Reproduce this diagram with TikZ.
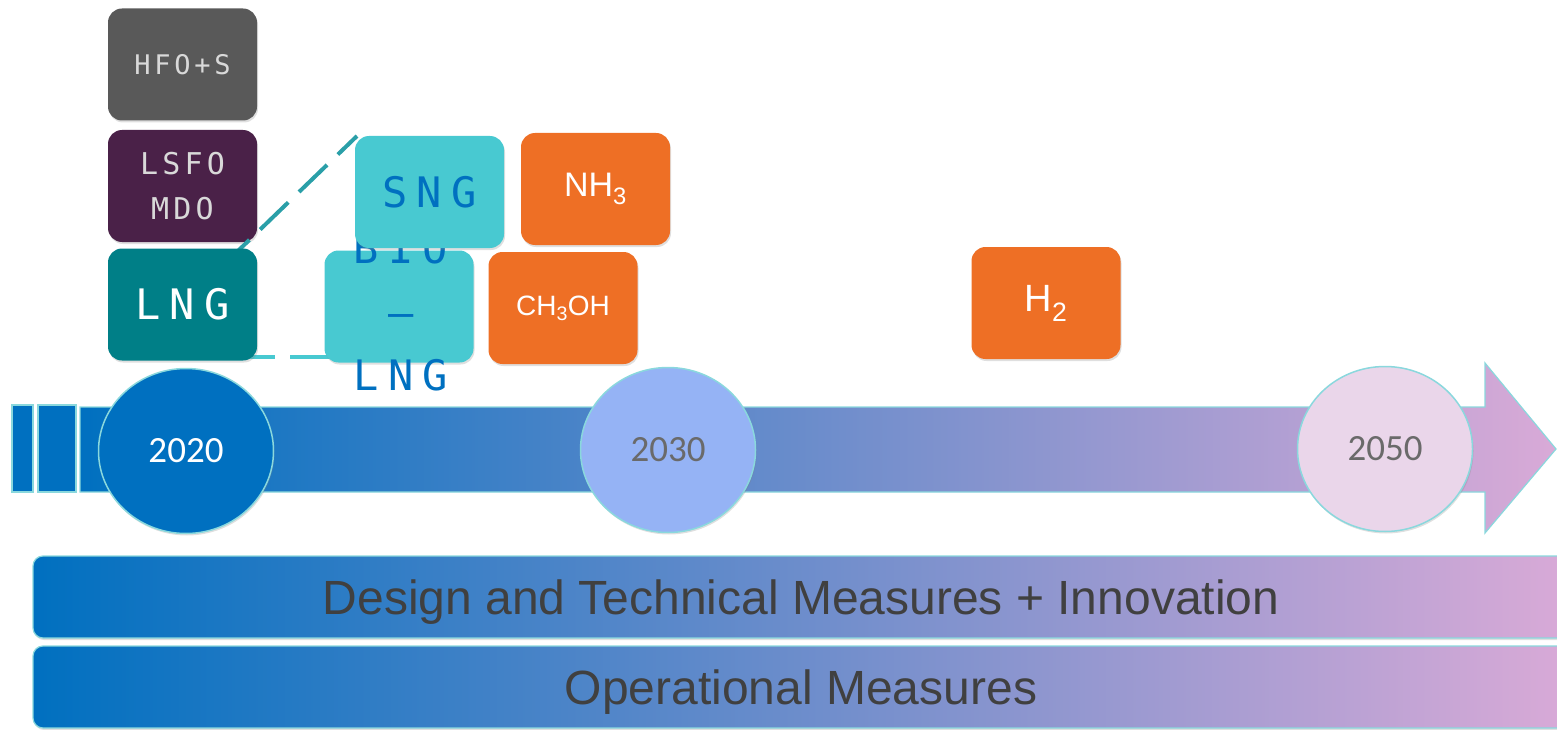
\documentclass[tikz,border=0pt]{standalone}
\usepackage{fontspec}
\setmainfont{Liberation Sans}
\newfontfamily\yearfont{Carlito}
\newfontfamily\fuelfont[LetterSpace=14]{DejaVu Sans Mono}
\newfontfamily\widefuelfont[LetterSpace=22]{DejaVu Sans Mono}
\usepackage{tikz}
\usetikzlibrary{shapes,arrows,positioning,calc,shadows}

\definecolor{hfogrey}{HTML}{595959}
\definecolor{lsfopurple}{HTML}{4A2148}
\definecolor{lngteal}{HTML}{007F87}
\definecolor{sngcyan}{HTML}{48C9D1}
\definecolor{fuelorange}{HTML}{EE6F25}
\definecolor{deepblue}{HTML}{0070C0}
\definecolor{lilac}{HTML}{D9AAD7}
\definecolor{rimcyan}{HTML}{8AD8DD}
\definecolor{lighttext}{HTML}{D9D9D9}
\definecolor{yeargrey}{HTML}{6A6A6A}
\definecolor{bartext}{HTML}{404040}
\definecolor{dashteal}{HTML}{2A9FA8}
\definecolor{midblue}{HTML}{95B3F5}
\definecolor{palelilac}{HTML}{EAD6EA}

\begin{document}
\begin{tikzpicture}[x=1pt,y=-1pt,
    fuelbox/.style={rounded corners=14pt, minimum width=149pt, minimum height=112pt,
        inner sep=0pt, align=center,
        drop shadow={opacity=0.25,shadow xshift=1pt,shadow yshift=-2pt}},
    monotext/.style={font=\fuelfont\fontsize{#1}{45}\selectfont},
    widetext/.style={font=\widefuelfont\fontsize{#1}{63.5}\selectfont},
    yearring/.style={ellipse, minimum width=175pt, minimum height=165pt, inner sep=0pt,
        draw=rimcyan, line width=1.5pt, font=\yearfont\fontsize{37}{40}\selectfont,
        drop shadow={opacity=0.25,shadow xshift=1pt,shadow yshift=-2pt}},
    barbox/.style={rounded corners=10pt, minimum width=1536pt, minimum height=82pt,
        left color=deepblue, right color=lilac, draw=rimcyan, line width=1.2pt,
        text=bartext, font=\fontsize{48}{52}\selectfont, text height=35pt, text depth=0pt,
        drop shadow={opacity=0.25,shadow xshift=1pt,shadow yshift=-2pt}},
    linkdash/.style={line width=4pt, dash pattern=on 39pt off 15pt}]
    \useasboundingbox (0,0) rectangle (1557,730);

    % Timeline arrow
    \foreach \xa/\xb in {12/33, 38/76} {
        \draw[fill=deepblue, draw=rimcyan, line width=1.2pt] (\xa,405) rectangle (\xb,492);
    }
    \shade[left color=deepblue, right color=lilac, draw=rimcyan, line width=1.2pt]
        (80,407) -- (1485,407) -- (1485,363) -- (1556,449) -- (1485,533) -- (1485,492) -- (80,492) -- cycle;

    \node[yearring, fill=deepblue, text=white] (y2020) at (186,451) {2020};
    \node[yearring, fill=midblue, text=yeargrey] (y2030) at (668,450) {2030};
    \node[yearring, fill=palelilac, text=yeargrey] (y2050) at (1385,449) {2050};

    % Fuel boxes
    \node[fuelbox, fill=hfogrey, text=lighttext, monotext=27] (hfo) at (182.5,64.5) {HFO+S};
    \node[fuelbox, fill=lsfopurple, text=lighttext, monotext=30] (lsfo) at (182.5,186) {LSFO\\MDO};

    % links (behind boxes)
    \coordinate (lngmid) at (182.5,304.5);
    \coordinate (sngcorner) at (357,136);
    \draw[linkdash, dashteal] (lngmid) -- (sngcorner);
    \draw[linkdash, sngcyan] (182,357) -- (340,357);

    \node[fuelbox, fill=lngteal, text=white, widetext=42] (lng) at (lngmid) {LNG};
    \node[fuelbox, fill=sngcyan] (bio) at (399,306.5) {};
    \node[text=deepblue, align=center, widetext=42] (biotext) at (401,312) {BIO\\–\\LNG};
    \node[fuelbox, fill=sngcyan, text=deepblue, widetext=42] (sng) at (429.5,192) {SNG};

    \node[fuelbox, fill=fuelorange, text=white, font=\fontsize{34}{38}\selectfont] (nh3) at (595.5,189) {NH\textsubscript{3}};
    \node[fuelbox, fill=fuelorange, text=white, font=\fontsize{28}{30}\selectfont] (meoh) at (563,308) {CH\textsubscript{3}OH};
    \node[fuelbox, fill=fuelorange, text=white, font=\fontsize{38}{40}\selectfont] (h2) at (1046,303) {H\textsubscript{2}};

    % Measures
    \node[barbox] (design) at (801,597) {Design and Technical Measures + Innovation};
    \node[barbox] (oper) at (801,687) {Operational Measures};
\end{tikzpicture}
\end{document}
